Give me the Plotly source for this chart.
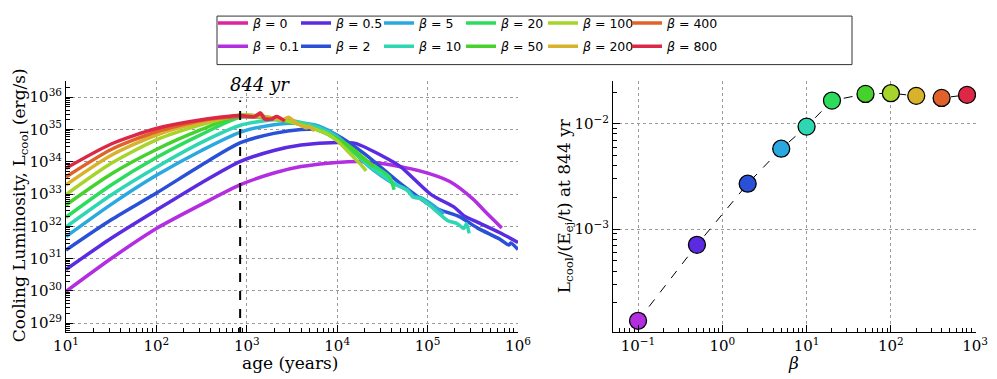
import numpy as np
import plotly.graph_objects as go

# beta values, legend labels, colours
betas = ["0", "0.1", "0.5", "2", "5", "10", "20", "50", "100", "200", "400", "800"]
colors = ["#e0229e", "#b22ee0", "#5a2be0", "#2a50d8", "#2aa8e0", "#2ed6b2",
          "#2cdc5c", "#46d12c", "#a6d42a", "#d8b22a", "#e0622a", "#dc2846"]

# cooling luminosity curves: log10(age/yr) and log10(L/erg s^-1)
logt = {
    "0":   [],
    "0.1": [1, 1.5, 2, 2.5, 2.93, 3.3, 3.6, 4.0, 4.3, 4.6, 5.0, 5.25, 5.5, 5.65, 5.82],
    "0.5": [1, 1.5, 2, 2.5, 2.93, 3.3, 3.6, 4.0, 4.2, 4.52, 4.7, 5.04, 5.29, 5.4, 5.55, 5.8, 6.0],
    "2":   [1, 1.5, 2, 2.5, 2.93, 3.3, 3.6, 3.85, 4.0, 4.3, 4.71, 5.07, 5.35, 5.55, 5.8, 5.9, 5.92, 6.0],
    "5":   [1, 1.5, 2, 2.5, 2.93, 3.3, 3.6, 3.8, 4.0, 4.34, 4.62, 4.78, 4.84, 4.93, 5.07, 5.18],
    "10":  [1, 1.5, 2, 2.5, 2.93, 3.3, 3.5, 3.8, 4.0, 4.34, 4.62, 4.78, 4.84, 4.93, 5.07, 5.22, 5.33, 5.4, 5.43, 5.46],
    "20":  [1, 1.5, 2, 2.5, 2.93, 3.3, 3.6, 3.9, 4.1, 4.3, 4.5, 4.58, 4.63],
    "50":  [1, 1.5, 2, 2.5, 2.93, 3.3, 3.6, 3.9, 4.1, 4.3, 4.4],
    "100": [1, 1.5, 2, 2.5, 2.93, 3.3, 3.6, 3.9, 4.0, 4.16, 4.25, 4.32],
    "200": [1, 1.5, 2, 2.5, 2.93, 3.2, 3.4, 3.46, 3.55, 3.66, 3.69, 3.75],
    "400": [1, 1.5, 2, 2.5, 2.93, 3.1, 3.15, 3.2, 3.3],
    "800": [1, 1.5, 2, 2.5, 2.93, 3.08, 3.15, 3.2, 3.28, 3.33, 3.42],
}
logL = {
    "0":   [],
    "0.1": [29.98, 31.0, 31.93, 32.68, 33.29, 33.65, 33.85, 33.98, 34.0, 33.9, 33.65, 33.38, 32.85, 32.42, 31.95],
    "0.5": [30.66, 31.63, 32.5, 33.35, 34.01, 34.35, 34.52, 34.6, 34.57, 34.15, 33.85, 32.98, 32.6, 32.33, 32.13, 31.8, 31.5],
    "2":   [31.26, 32.2, 33.03, 33.9, 34.59, 34.88, 35.0, 35.0, 34.82, 34.25, 33.3, 32.58, 32.3, 31.95, 31.6, 31.42, 31.48, 31.28],
    "5":   [31.68, 32.68, 33.58, 34.35, 34.92, 35.15, 35.2, 35.1, 34.8, 33.88, 33.33, 33.13, 32.95, 32.88, 32.63, 32.38],
    "10":  [31.98, 32.97, 33.83, 34.6, 35.13, 35.3, 35.28, 35.05, 34.75, 33.9, 33.35, 33.1, 32.9, 32.85, 32.53, 32.18, 32.08, 31.93, 32.08, 31.78],
    "20":  [32.28, 33.28, 34.13, 34.85, 35.38, 35.32, 35.15, 34.85, 34.45, 34.05, 33.7, 33.52, 33.13],
    "50":  [32.66, 33.62, 34.38, 35.0, 35.44, 35.35, 35.15, 34.85, 34.55, 34.1, 33.85],
    "100": [32.98, 33.95, 34.68, 35.15, 35.45, 35.35, 35.15, 34.85, 34.65, 34.2, 33.95, 33.72],
    "200": [33.28, 34.2, 34.83, 35.22, 35.42, 35.38, 35.3, 35.38, 35.2, 35.05, 35.1, 34.95],
    "400": [33.53, 34.38, 34.93, 35.28, 35.4, 35.4, 35.52, 35.35, 35.32],
    "800": [33.8, 34.55, 35.03, 35.3, 35.43, 35.4, 35.5, 35.32, 35.33, 35.4, 35.26],
}

# right panel: L_cool/(E_ej/t) at 844 yr
beta_pts = [0.1, 0.5, 2, 5, 10, 20, 50, 100, 200, 400, 800]
ratio_pts = [1.35e-4, 7.1e-4, 2.7e-3, 5.8e-3, 9.4e-3, 1.66e-2, 1.92e-2, 1.95e-2, 1.84e-2, 1.76e-2, 1.88e-2]

t_mark = 844

# the page body has an 8px margin, so the figure is drawn 8px in from the window corner
PAD = 8
W, H = 997 - PAD, 379 - PAD
SERIF = "DejaVu Serif"


def px_x(p):
    return (p - PAD) / W


def px_y(p):
    return 1 - (p - PAD) / H


def sup(n):
    return "10<sup>" + str(n).replace("-", "\u2212") + "</sup>"


def minor_vals(lo, hi):
    return [m * 10.0 ** k for k in range(lo, hi) for m in range(2, 10)]


fig = go.Figure()

# legend: 6 columns of 2 entries, like matplotlib's ncol=6
col_x = [218, 301, 384, 466, 548, 632]
for i, b in enumerate(betas):
    col = i // 2
    lname = "legend" if col == 0 else "legend%d" % (col + 1)
    fig.add_trace(go.Scatter(
        x=[10.0 ** v for v in logt[b]] if logt[b] else [None],
        y=[10.0 ** v for v in logL[b]] if logL[b] else [None],
        mode="lines", line=dict(color=colors[i], width=3.5, shape="spline", smoothing=0.7),
        name="<i>\u03b2</i> = " + b, legend=lname, legendgroup=b,
        xaxis="x", yaxis="y",
    ))

fig.add_trace(go.Scatter(
    x=[t_mark, t_mark], y=[10.0 ** 28.6, 10.0 ** 35.9], mode="lines",
    line=dict(color="black", width=2, dash="dash"), showlegend=False,
    xaxis="x", yaxis="y"))

fig.add_trace(go.Scatter(
    x=beta_pts, y=ratio_pts, mode="lines+markers",
    line=dict(color="black", width=1, dash="dash"),
    marker=dict(size=17, color=colors[1:], line=dict(color="black", width=1.3)),
    showlegend=False, xaxis="x2", yaxis="y2"))

axis_common = dict(
    type="log", showline=True, linecolor="black", linewidth=1, mirror=False,
    ticks="inside", ticklen=7, tickcolor="black", tickwidth=1,
    showgrid=True, gridcolor="#9a9a9a", griddash="dot", gridwidth=1,
    zeroline=False, tickmode="array", automargin=False,
    tickfont=dict(family=SERIF, size=15, color="black"),
)
minor_common = dict(ticks="inside", ticklen=4, tickcolor="black", showgrid=False,
                    tickmode="array")

legends = {}
for c, cx in enumerate(col_x):
    key = "legend" if c == 0 else "legend%d" % (c + 1)
    legends[key] = dict(orientation="v", x=px_x(cx - 5), y=px_y(-3), xanchor="left", yanchor="top",
                        itemwidth=30, tracegroupgap=4,
                        font=dict(family="DejaVu Sans", size=12.5, color="black"),
                        bgcolor="rgba(0,0,0,0)")

title_font = dict(family=SERIF, size=17, color="black")

fig.update_layout(
    width=W, height=H, margin=dict(l=0, r=0, t=0, b=0),
    paper_bgcolor="white", plot_bgcolor="white",
    xaxis=dict(axis_common, domain=[px_x(66), px_x(518)], anchor="y",
               range=[1, 6], tickvals=[10.0 ** k for k in range(1, 7)],
               ticktext=[sup(k) for k in range(1, 7)],
               minor=dict(minor_common, tickvals=minor_vals(1, 6))),
    yaxis=dict(axis_common, domain=[px_y(331), px_y(72)], anchor="x",
               range=[28.71, 36.5], tickvals=[10.0 ** k for k in range(29, 37)],
               ticktext=[sup(k) for k in range(29, 37)],
               minor=dict(minor_common, tickvals=minor_vals(28, 37))),
    xaxis2=dict(axis_common, domain=[px_x(613), px_x(976)], anchor="y2",
                range=[-1.297, 3.01], tickvals=[10.0 ** k for k in range(-1, 4)],
                ticktext=[sup(k) for k in range(-1, 4)],
                minor=dict(minor_common, tickvals=minor_vals(-2, 3))),
    yaxis2=dict(axis_common, domain=[px_y(331), px_y(72)], anchor="x2",
                range=[-3.98, -1.595], tickvals=[1e-3, 1e-2],
                ticktext=[sup(-3), sup(-2)],
                minor=dict(minor_common, tickvals=minor_vals(-4, -1))),
    shapes=[dict(type="rect", xref="paper", yref="paper",
                 x0=px_x(217), x1=px_x(852), y0=px_y(55), y1=px_y(5),
                 line=dict(color="#333333", width=1), fillcolor="rgba(0,0,0,0)")],
    annotations=[
        dict(text="<i>844 yr</i>", x=np.log10(t_mark), y=36.0, xref="x", yref="y",
             xanchor="left", yanchor="bottom", xshift=-12, showarrow=False,
             font=dict(family=SERIF, size=18, color="black")),
        dict(text="age (years)", x=px_x(290), y=px_y(363), xref="paper", yref="paper",
             xanchor="center", yanchor="middle", showarrow=False, font=title_font),
        dict(text="Cooling Luminosity, L<sub>cool</sub> (erg/s)", x=px_x(20), y=px_y(200),
             xref="paper", yref="paper", textangle=-90, xanchor="center", yanchor="middle",
             showarrow=False, font=title_font),
        dict(text="<i>\u03b2</i>", x=px_x(793), y=px_y(363), xref="paper", yref="paper",
             xanchor="center", yanchor="middle", showarrow=False, font=title_font),
        dict(text="L<sub>cool</sub>/(E<sub>ej</sub>/t) at 844 yr", x=px_x(565), y=px_y(201),
             xref="paper", yref="paper", textangle=-90, xanchor="center", yanchor="middle",
             showarrow=False, font=title_font),
    ],
    **legends,
)

fig.write_html("out.html")
